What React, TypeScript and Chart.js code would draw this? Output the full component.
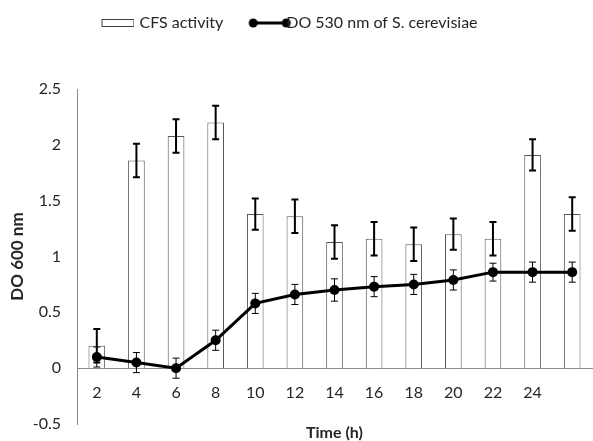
import React, { useEffect, useRef } from "react";
import { Chart, registerables } from "chart.js";

Chart.register(...registerables);

const categories = ["2", "4", "6", "8", "10", "12", "14", "16", "18", "20", "22", "24", ""];
const cfsActivity = [0.2, 1.86, 2.08, 2.2, 1.38, 1.36, 1.13, 1.16, 1.11, 1.2, 1.16, 1.91, 1.38];
const cfsError = [0.15, 0.15, 0.15, 0.15, 0.14, 0.15, 0.15, 0.15, 0.15, 0.14, 0.15, 0.14, 0.15];
const do530 = [0.1, 0.05, 0, 0.25, 0.58, 0.66, 0.7, 0.73, 0.75, 0.79, 0.86, 0.86, 0.86];
const do530Error = [0.09, 0.09, 0.09, 0.09, 0.09, 0.09, 0.1, 0.09, 0.09, 0.09, 0.08, 0.09, 0.09];
const seriesNames = ["CFS activity", "DO 530 nm of S. cerevisiae"];
const yTitle = "DO 600 nm";
const xTitle = "Time (h)";

const FONT = "Lato, 'Noto Sans', sans-serif";
const TEXT = "#262626";
const AXIS = "#8a8a8a";

function makeBarLegendImage() {
  const c = document.createElement("canvas");
  c.width = 36;
  c.height = 10;
  const g = c.getContext("2d")!;
  g.fillStyle = "#fff";
  g.fillRect(3.5, 1.5, 32, 7);
  g.strokeStyle = "#404040";
  g.lineWidth = 1;
  g.strokeRect(3.5, 1.5, 32, 7);
  return c;
}

function makeLineLegendImage() {
  const c = document.createElement("canvas");
  c.width = 58;
  c.height = 12;
  const g = c.getContext("2d")!;
  g.strokeStyle = "#000";
  g.lineWidth = 3;
  g.beginPath();
  g.moveTo(19, 6);
  g.lineTo(52, 6);
  g.stroke();
  g.fillStyle = "#000";
  [19, 52].forEach((x) => {
    g.beginPath();
    g.arc(x, 6, 4.5, 0, Math.PI * 2);
    g.fill();
  });
  return c;
}

const errorBarsPlugin = {
  id: "errorBars",
  afterDatasetDraw(chart: any, args: any) {
    const idx = args.index;
    const values = idx === 0 ? cfsActivity : do530;
    const errs = idx === 0 ? cfsError : do530Error;
    const y = chart.scales.y;
    const ctx = chart.ctx;
    ctx.save();
    ctx.strokeStyle = "#000";
    ctx.lineWidth = idx === 0 ? 2 : 1;
    const cap = 3.5;
    args.meta.data.forEach((el: any, j: number) => {
      const x = el.x;
      const yt = y.getPixelForValue(values[j] + errs[j]);
      const yb = y.getPixelForValue(values[j] - errs[j]);
      ctx.beginPath();
      ctx.moveTo(x, yt);
      ctx.lineTo(x, yb);
      ctx.moveTo(x - cap, yt);
      ctx.lineTo(x + cap, yt);
      ctx.moveTo(x - cap, yb);
      ctx.lineTo(x + cap, yb);
      ctx.stroke();
    });
    ctx.restore();
  },
};

const xTitlePlugin = {
  id: "xTitle",
  afterDraw(chart: any) {
    const { ctx, chartArea } = chart;
    ctx.save();
    ctx.font = `bold 16px ${FONT}`;
    ctx.fillStyle = TEXT;
    ctx.textAlign = "center";
    ctx.textBaseline = "middle";
    ctx.fillText(xTitle, (chartArea.left + chartArea.right) / 2, chartArea.bottom + 9);
    ctx.restore();
  },
};

export default function App() {
  const ref = useRef<HTMLCanvasElement>(null);

  useEffect(() => {
    if (!ref.current) return;
    const barImg = makeBarLegendImage();
    const lineImg = makeLineLegendImage();
    const chart = new Chart(ref.current, {
      type: "bar",
      data: {
        labels: categories,
        datasets: [
          {
            type: "bar",
            label: seriesNames[0],
            data: cfsActivity,
            backgroundColor: "#ffffff",
            borderColor: "#555555",
            borderWidth: 1,
            barPercentage: 0.42,
            categoryPercentage: 1,
            order: 2,
          },
          {
            type: "line",
            label: seriesNames[1],
            data: do530,
            borderColor: "#000",
            borderWidth: 3,
            pointRadius: 5,
            pointBackgroundColor: "#000",
            pointBorderColor: "#000",
            pointBorderWidth: 0,
            tension: 0,
            order: 1,
          },
        ],
      } as any,
      options: {
        animation: false,
        responsive: false,
        devicePixelRatio: 1,
        layout: { padding: { top: -10, left: -18, right: 0, bottom: 17 } },
        plugins: {
          tooltip: { enabled: false },
          legend: {
            display: true,
            position: "top",
            labels: {
              usePointStyle: true,
              pointStyleWidth: 30,
              font: { family: FONT, size: 16 },
              color: TEXT,
              padding: 25,
              generateLabels: () => [
                {
                  text: seriesNames[0],
                  pointStyle: barImg,
                  fillStyle: "#fff",
                  strokeStyle: "#000",
                  lineWidth: 0,
                  hidden: false,
                  datasetIndex: 0,
                  fontColor: TEXT,
                } as any,
                {
                  text: seriesNames[1],
                  pointStyle: lineImg,
                  fillStyle: "#000",
                  strokeStyle: "#000",
                  lineWidth: 0,
                  hidden: false,
                  datasetIndex: 1,
                  fontColor: TEXT,
                } as any,
              ],
            } as any,
          },
          title: {
            display: true,
            text: "",
            weight: 500,
            font: { size: 10, lineHeight: 1 },
            padding: { top: 0, bottom: 38 },
          } as any,
        },
        scales: {
          x: {
            position: { y: 0 } as any,
            grid: { display: false, drawTicks: false },
            border: { display: true, color: AXIS, width: 1 },
            ticks: {
              font: { family: FONT, size: 16 },
              color: TEXT,
              padding: 15,
              autoSkip: false,
              maxRotation: 0,
            },
            afterFit: (scale: any) => {
              scale.height = 17;
            },
          },
          y: {
            min: -0.5,
            max: 2.5,
            grid: { display: false, drawTicks: false },
            border: { display: true, color: AXIS, width: 1 },
            ticks: {
              stepSize: 0.5,
              font: { family: FONT, size: 16 },
              color: TEXT,
              padding: 16,
              callback: (v: any) => String(Math.round(Number(v) * 10) / 10),
            },
            title: {
              display: true,
              text: yTitle,
              font: { family: FONT, size: 17, weight: "bold" },
              color: TEXT,
              padding: { top: 25, bottom: 0 },
            },
            afterFit: (scale: any) => {
              scale.width = 95;
              scale.paddingTop = 0;
              scale.paddingBottom = 0;
            },
          },
        },
      } as any,
      plugins: [errorBarsPlugin, xTitlePlugin],
    });
    return () => chart.destroy();
  }, []);

  return (
    <div
      style={{
        position: "fixed",
        left: 0,
        top: 0,
        width: 593,
        height: 441,
        overflow: "hidden",
        background: "#fff",
      }}
    >
      <canvas
        ref={ref}
        width={597}
        height={441}
        style={{ width: 597, height: 441, display: "block" }}
      />
    </div>
  );
}
